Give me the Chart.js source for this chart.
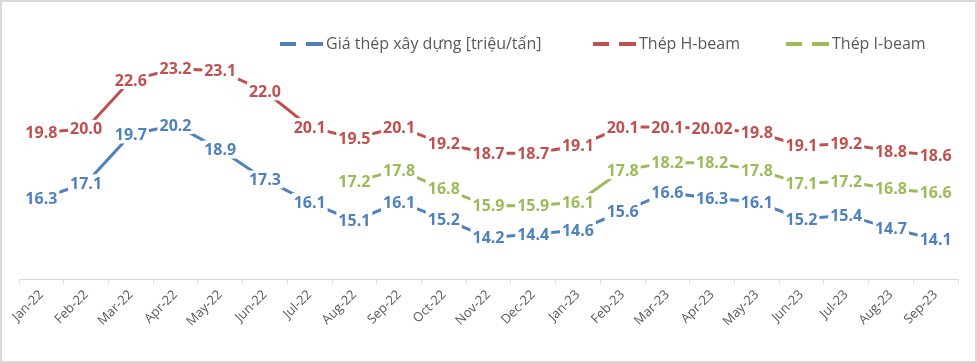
<!DOCTYPE html>
<html>
<head>
<meta charset="utf-8">
<script src="https://cdn.jsdelivr.net/npm/chart.js@4.4.1/dist/chart.umd.min.js"></script>
<style>
  body { margin: 0; background: #fff; }
  #wrap { position: absolute; left: 0; top: 0; width: 977px; height: 363px; }
</style>
</head>
<body>
<div id="wrap"><canvas id="steelChart"></canvas></div>
<script>
// Categories and values
const months = ['Jan-22', 'Feb-22', 'Mar-22', 'Apr-22', 'May-22', 'Jun-22', 'Jul-22',
    'Aug-22', 'Sep-22', 'Oct-22', 'Nov-22', 'Dec-22', 'Jan-23', 'Feb-23', 'Mar-23',
    'Apr-23', 'May-23', 'Jun-23', 'Jul-23', 'Aug-23', 'Sep-23'];

const giaThep = [16.3, 17.1, 19.7, 20.2, 18.9, 17.3, 16.1, 15.1, 16.1, 15.2, 14.2,
    14.4, 14.6, 15.6, 16.6, 16.3, 16.1, 15.2, 15.4, 14.7, 14.1];

const hBeam = [19.8, 20.0, 22.6, 23.2, 23.1, 22.0, 20.1, 19.5, 20.1, 19.2, 18.7,
    18.7, 19.1, 20.1, 20.1, 20.02, 19.8, 19.1, 19.2, 18.8, 18.6];

const iBeam = [null, null, null, null, null, null, null, 17.2, 17.8, 16.8, 15.9,
    15.9, 16.1, 17.8, 18.2, 18.2, 17.8, 17.1, 17.2, 16.8, 16.6];

const seriesNames = ['Giá thép xây dựng [triệu/tấn]', 'Thép H-beam', 'Thép I-beam'];
const seriesColors = ['#4F81BD', '#C0504D', '#9BBB59'];

// Format label the way the source shows it (one decimal, except 20.02)
function fmt(v) {
    const s = String(v);
    return s.indexOf('.') < 0 ? v.toFixed(1) : s;
}

// Data labels with white box, so the line looks broken around each value
const valueLabels = {
    id: 'valueLabels',
    afterDatasetsDraw(chart) {
        const ctx = chart.ctx;
        ctx.save();
        ctx.font = 'bold 16px "Open Sans"';
        ctx.textAlign = 'center';
        ctx.textBaseline = 'middle';
        chart.data.datasets.forEach((ds, i) => {
            const meta = chart.getDatasetMeta(i);
            meta.data.forEach((pt, j) => {
                const v = ds.data[j];
                if (v === null) return;
                const txt = fmt(v);
                const w = ctx.measureText(txt).width + 4;
                ctx.fillStyle = '#fff';
                ctx.fillRect(pt.x - w / 2, pt.y - 9, w, 18);
                ctx.fillStyle = ds.borderColor;
                ctx.fillText(txt, pt.x, pt.y + 1);
            });
        });
        ctx.restore();
    }
};

// Legend with dashed keys, plus the grey frame
const frameLegend = {
    id: 'frameLegend',
    afterDraw(chart) {
        const ctx = chart.ctx;
        ctx.save();
        ctx.strokeStyle = '#D9D9D9';
        ctx.lineWidth = 2;
        ctx.strokeRect(1, 1, 975, 361);

        const keyX = [280, 593, 786];
        ctx.font = '16px "Open Sans"';
        ctx.textBaseline = 'middle';
        ctx.lineWidth = 4;
        seriesNames.forEach((name, i) => {
            const x = keyX[i];
            ctx.strokeStyle = seriesColors[i];
            ctx.beginPath();
            ctx.moveTo(x, 44); ctx.lineTo(x + 16, 44);
            ctx.moveTo(x + 26, 44); ctx.lineTo(x + 43, 44);
            ctx.stroke();
            ctx.fillStyle = '#595959';
            ctx.fillText(name, x + 46, 44);
        });
        ctx.restore();
    }
};

const ctx = document.getElementById('steelChart').getContext('2d');
const steelChart = new Chart(ctx, {
    type: 'line',
    data: {
        labels: months,
        datasets: [giaThep, hBeam, iBeam].map((d, i) => ({
            label: seriesNames[i],
            data: d,
            borderColor: seriesColors[i],
            backgroundColor: seriesColors[i],
            borderWidth: 3,
            pointRadius: 0,
            tension: 0,
            fill: false
        }))
    },
    options: {
        responsive: true,
        maintainAspectRatio: false,
        animation: false,
        layout: { padding: { left: 19, right: 19, top: 35, bottom: 0 } },
        plugins: {
            legend: { display: false },
            tooltip: { enabled: false }
        },
        scales: {
            x: {
                offset: true,
                grid: {
                    offset: true,
                    drawOnChartArea: false,
                    drawTicks: true,
                    tickLength: 4,
                    color: '#D9D9D9'
                },
                border: { color: '#D9D9D9', width: 1 },
                ticks: {
                    autoSkip: false,
                    minRotation: 45,
                    maxRotation: 45,
                    padding: 4,
                    color: '#595959',
                    font: { family: 'Open Sans', size: 13 }
                },
                afterFit(scale) { scale.height = 84; }
            },
            y: {
                display: false,
                min: 12,
                max: 25
            }
        }
    },
    plugins: [valueLabels, frameLegend]
});
</script>
</body>
</html>
